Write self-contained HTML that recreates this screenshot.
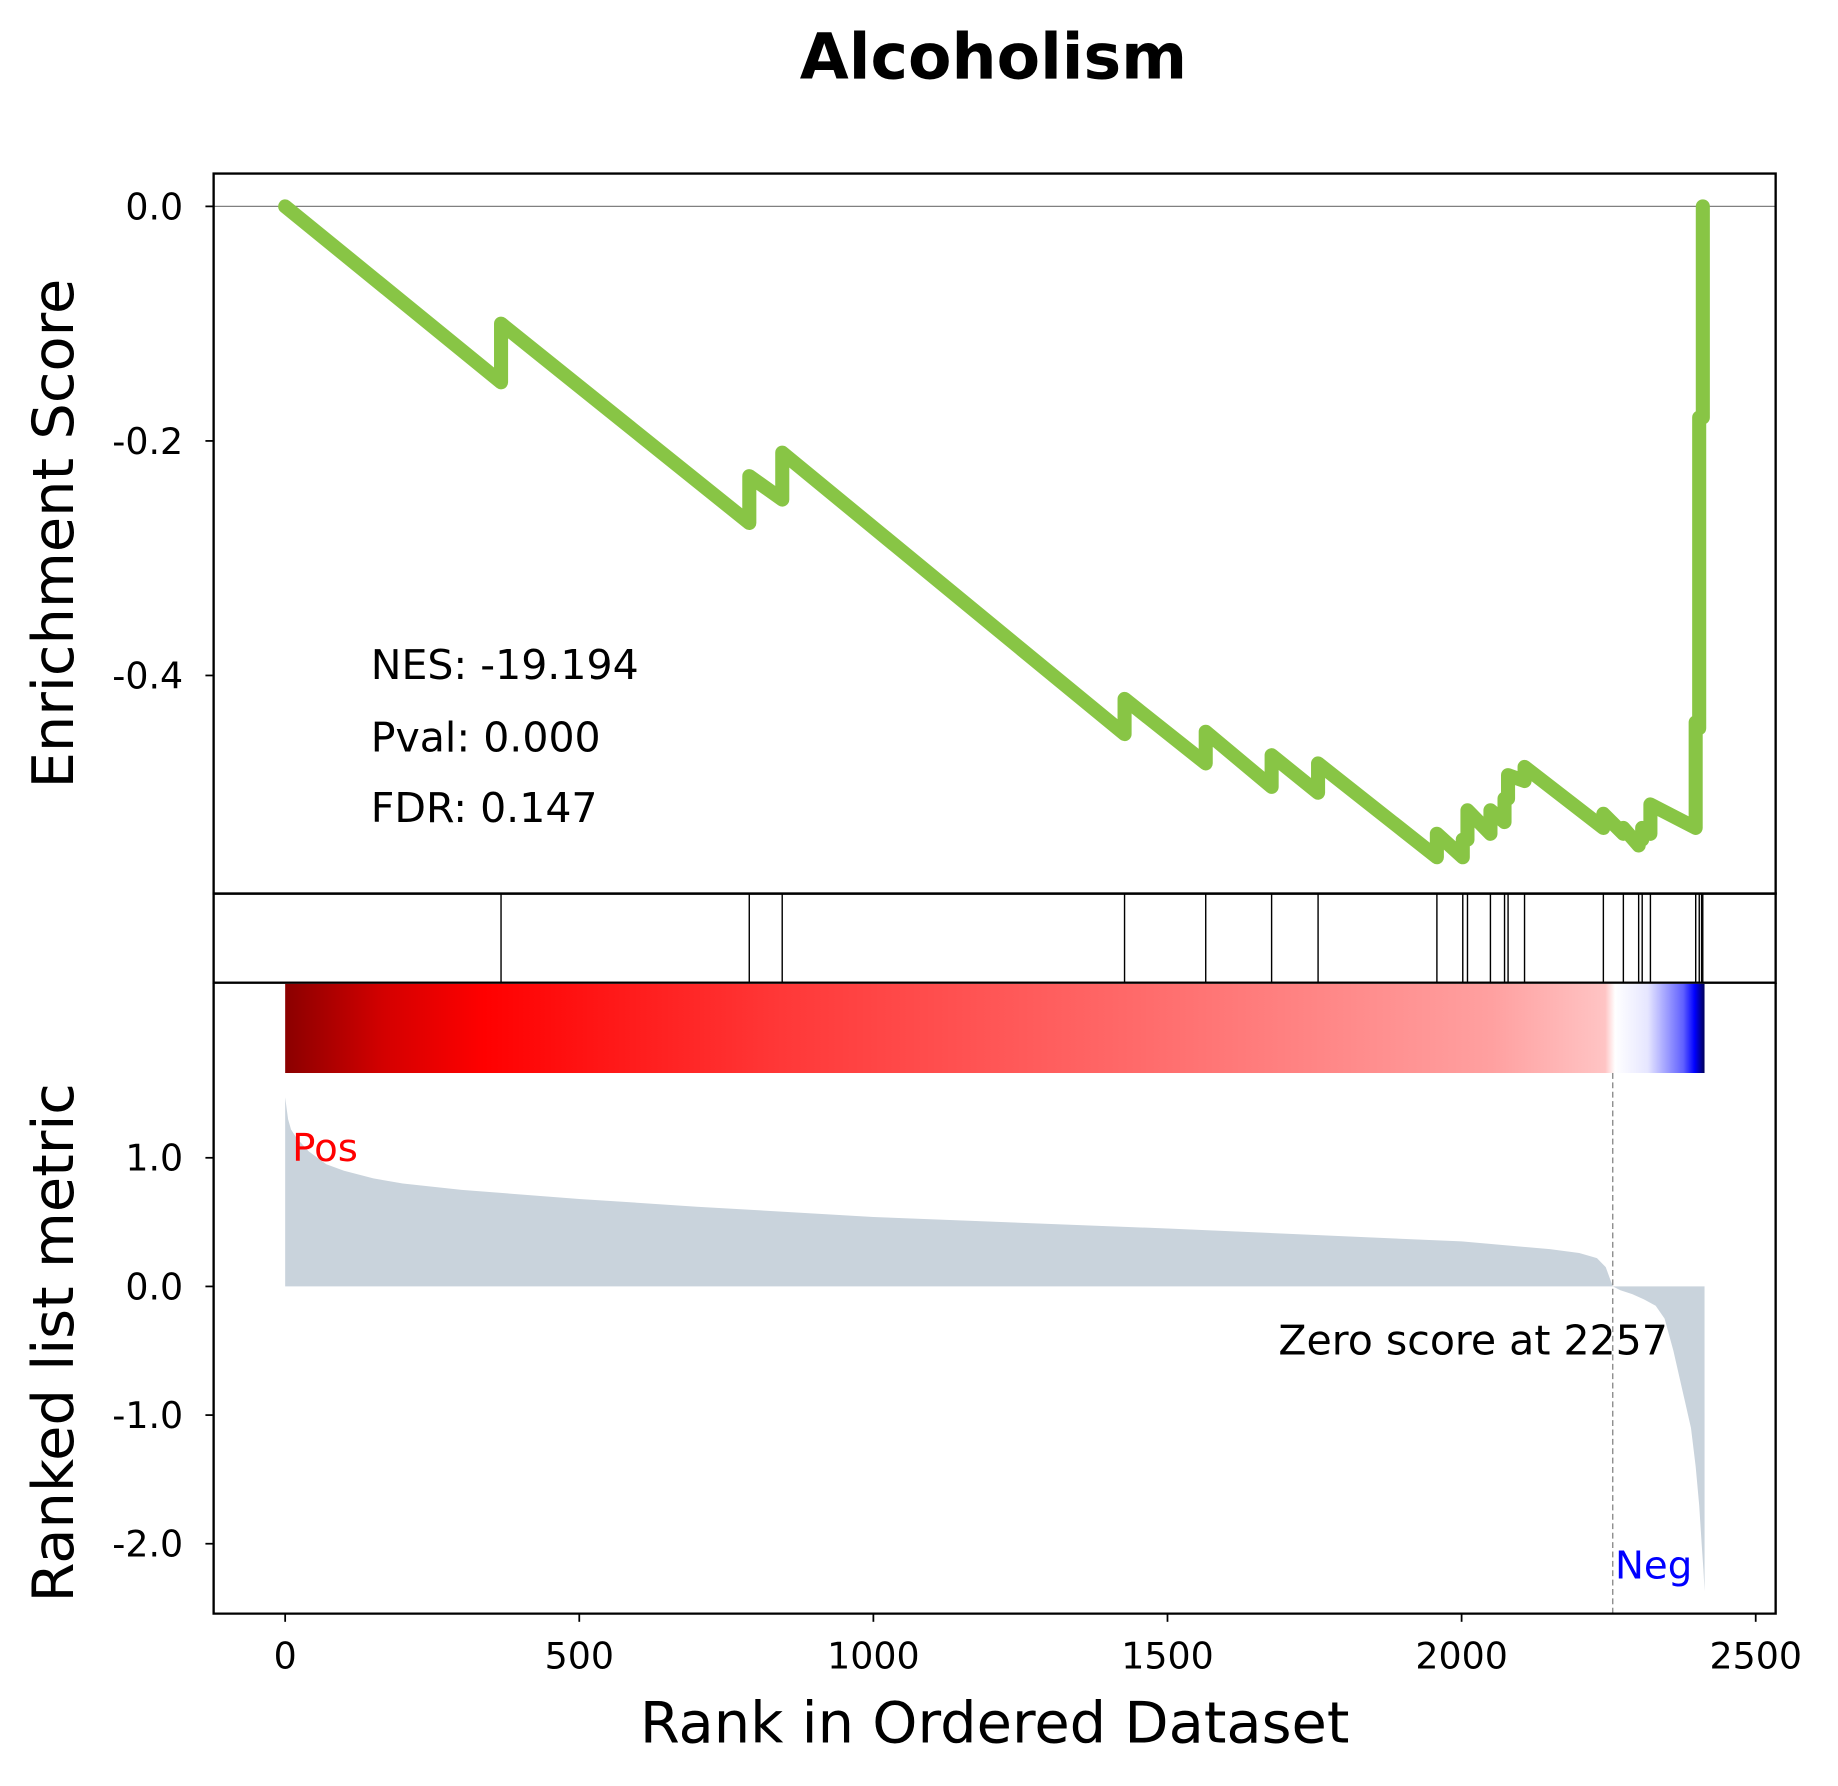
<!DOCTYPE html>
<html><head><meta charset="utf-8"><style>
html,body{margin:0;padding:0;background:#fff;}
svg{display:block;font-family:"DejaVu Sans","Liberation Sans",sans-serif;}
</style></head><body>
<svg id="chart" width="1838" height="1786" viewBox="0 0 1567 1523" xmlns="http://www.w3.org/2000/svg">
<defs>
<linearGradient id="cbar" x1="0" x2="1" y1="0" y2="0">
<stop offset="0" stop-color="#8b0000"/>
<stop offset="0.07" stop-color="#d40000"/>
<stop offset="0.14" stop-color="#ff0000"/>
<stop offset="0.35" stop-color="#ff3838"/>
<stop offset="0.6" stop-color="#ff6a6a"/>
<stop offset="0.85" stop-color="#ffa0a0"/>
<stop offset="0.93" stop-color="#ffc4c4"/>
<stop offset="0.937" stop-color="#ffffff"/>
<stop offset="0.96" stop-color="#e6e6ff"/>
<stop offset="0.985" stop-color="#6060ff"/>
<stop offset="0.993" stop-color="#0000ff"/>
<stop offset="1" stop-color="#00005a"/>
</linearGradient>
</defs>
<text x="847" y="67" font-size="54" font-weight="bold" text-anchor="middle">Alcoholism</text>
<g id="gtop"></g>
<g id="ghits"></g>
<g id="gbottom"></g>
</svg>
<script>
const ranks = [0,367,367,789,789,845,845,1427,1427,1565,1565,1677,1677,1756,1756,1958,1958,2002,2002,2010,2010,2049,2049,2073,2073,2079,2079,2107,2107,2241,2241,2275,2275,2301,2301,2307,2307,2321,2321,2398,2398,2404,2404,2410,2410];
const esValues = [0,-0.15,-0.10,-0.27,-0.23,-0.25,-0.21,-0.45,-0.42,-0.475,-0.448,-0.495,-0.468,-0.50,-0.475,-0.555,-0.535,-0.555,-0.54,-0.54,-0.515,-0.535,-0.515,-0.525,-0.505,-0.505,-0.485,-0.49,-0.478,-0.53,-0.518,-0.535,-0.53,-0.545,-0.54,-0.54,-0.53,-0.535,-0.51,-0.53,-0.44,-0.445,-0.18,-0.18,0.0];
const hitRanks = [367,789,845,1427,1565,1677,1756,1958,2002,2010,2049,2073,2079,2107,2241,2275,2301,2307,2321,2398,2404,2408,2410];
const metricRanks = [0,2,5,10,20,40,70,100,150,200,300,500,700,1000,1500,2000,2150,2200,2230,2245,2257,2270,2290,2310,2330,2345,2360,2370,2380,2390,2398,2404,2408,2411,2413];
const metricValues = [1.47,1.4,1.3,1.22,1.15,1.05,0.95,0.9,0.84,0.8,0.75,0.68,0.62,0.54,0.45,0.35,0.29,0.26,0.22,0.15,0.0,-0.03,-0.06,-0.1,-0.15,-0.25,-0.5,-0.7,-0.9,-1.1,-1.4,-1.7,-2.0,-2.2,-2.37];
const xTicks = [0,500,1000,1500,2000,2500];
const esTicks = [0.0,-0.2,-0.4];
const metricTicks = [1.0,0.0,-1.0,-2.0];
const zeroRank = 2257;
const N = 2413;

const NS="http://www.w3.org/2000/svg";
const X = r => 243 + r*0.5016;
const YES = v => 176 - v*1000;
const YM = v => 1097 - v*109.7;
function mk(parent,tag,attrs,text){const e=document.createElementNS(NS,tag);for(const k in attrs)e.setAttribute(k,attrs[k]);if(text!==undefined)e.textContent=text;parent.appendChild(e);return e;}
const AL=182,AR=1514;
const gTop=document.getElementById('gtop'),gHits=document.getElementById('ghits'),gBot=document.getElementById('gbottom');

// top panel
let z=mk(gTop,'line',{x1:AL,x2:AR,y1:YES(0),y2:YES(0),stroke:'#808080','stroke-width':1});


let pts=ranks.map((r,i)=>X(r).toFixed(1)+','+YES(esValues[i]).toFixed(1)).join(' ');
let es=mk(gTop,'polyline',{points:pts,fill:'none',stroke:'#88c545','stroke-width':12,'stroke-linejoin':'round','stroke-linecap':'round'});


let b=mk(gTop,'rect',{x:AL,y:148,width:AR-AL,height:614,fill:'none',stroke:'#000','stroke-width':2});


esTicks.forEach(v=>{
  let t=mk(gTop,'line',{x1:AL-7,x2:AL,y1:YES(v),y2:YES(v),stroke:'#000','stroke-width':1.5});
  
  
  let l=mk(gTop,'text',{x:156,y:YES(v)+11,'font-size':31,'text-anchor':'end'},v===0?'0.0':v.toFixed(1));
  
  
});
let yl=mk(gTop,'text',{x:0,y:0,'font-size':49,'text-anchor':'middle',transform:'translate(62,455) rotate(-90)'},'Enrichment Score');


[['NES: -19.194',579],['Pval: 0.000',641],['FDR: 0.147',701]].forEach(([s,y],i)=>{
  let t=mk(gTop,'text',{x:316,y:y,'font-size':35},s);
  
  
});

// hits panel
hitRanks.forEach(r=>{
  let h=mk(gHits,'line',{x1:X(r),x2:X(r),y1:762,y2:838,stroke:'#000','stroke-width':1.2});
  
  
});
let hb=mk(gHits,'rect',{x:AL,y:762,width:AR-AL,height:76,fill:'none',stroke:'#000','stroke-width':2});



// bottom panel
let cb=mk(gBot,'rect',{x:X(0),y:839,width:X(N)-X(0),height:76,fill:'url(#cbar)'});


let mp='M'+X(metricRanks[0])+','+YM(0)+' '+metricRanks.map((r,i)=>'L'+X(r).toFixed(1)+','+YM(metricValues[i]).toFixed(1)).join(' ')+' L'+X(N)+','+YM(0)+' Z';
let area=mk(gBot,'path',{d:mp,fill:'#c9d3dc',stroke:'none'});


let dl=mk(gBot,'line',{x1:X(zeroRank),x2:X(zeroRank),y1:915,y2:1376,stroke:'#777','stroke-width':1,'stroke-dasharray':'5,3'});


let bb=mk(gBot,'path',{d:`M${AL},838 L${AL},1376 L${AR},1376 L${AR},838`,fill:'none',stroke:'#000','stroke-width':2});


metricTicks.forEach(v=>{
  let t=mk(gBot,'line',{x1:AL-7,x2:AL,y1:YM(v),y2:YM(v),stroke:'#000','stroke-width':1.5});
  
  
  let l=mk(gBot,'text',{x:156,y:YM(v)+11,'font-size':31,'text-anchor':'end'},v.toFixed(1));
  
  
});
xTicks.forEach(v=>{
  let t=mk(gBot,'line',{x1:X(v),x2:X(v),y1:1376,y2:1383,stroke:'#000','stroke-width':1.5});
  
  
  let l=mk(gBot,'text',{x:X(v),y:1423,'font-size':31,'text-anchor':'middle'},String(v));
  
  
});
let ml=mk(gBot,'text',{x:0,y:0,'font-size':49,'text-anchor':'middle',transform:'translate(62,1145) rotate(-90)'},'Ranked list metric');


let xl=mk(gBot,'text',{x:848,y:1486,'font-size':49,'text-anchor':'middle'},'Rank in Ordered Dataset');


let pos=mk(gBot,'text',{x:249,y:990,'font-size':33,fill:'#ff0000'},'Pos');


let neg=mk(gBot,'text',{x:1377,y:1346,'font-size':33,fill:'#0000ff'},'Neg');


let zt=mk(gBot,'text',{x:1090,y:1155,'font-size':35},'Zero score at '+zeroRank);


</script>
</body></html>
